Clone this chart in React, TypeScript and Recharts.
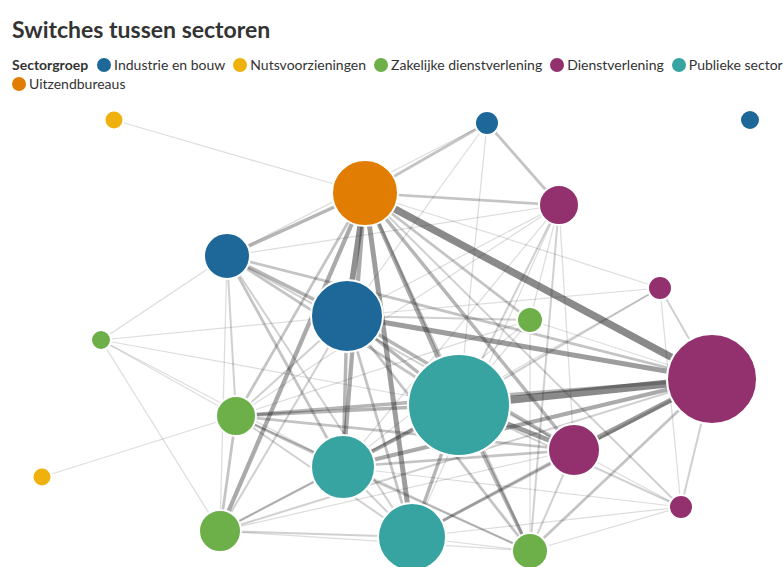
import React from "react";
import { Scatter, ScatterChart, XAxis, YAxis, ZAxis } from "recharts";

// sector groups, in legend order
const groups = [
  "Industrie en bouw",
  "Nutsvoorzieningen",
  "Zakelijke dienstverlening",
  "Dienstverlening",
  "Publieke sector",
  "Uitzendbureaus",
];

const GROUP_COLORS: Record<string, string> = {
  "Industrie en bouw": "#1d6899",
  Nutsvoorzieningen: "#eeb10d",
  "Zakelijke dienstverlening": "#6db04a",
  Dienstverlening: "#93316e",
  "Publieke sector": "#37a4a2",
  Uitzendbureaus: "#e27d04",
};

// nodes (layout position from the force layout, value = number of switches)
const nodeIds = ["A", "B", "C", "D", "E", "F", "G", "H", "I", "J", "K", "L", "M", "N", "O", "P", "Q", "R", "S", "T"];
const nodeGroups = [
  "Nutsvoorzieningen", "Industrie en bouw", "Industrie en bouw", "Uitzendbureaus", "Dienstverlening",
  "Industrie en bouw", "Dienstverlening", "Industrie en bouw", "Zakelijke dienstverlening", "Zakelijke dienstverlening",
  "Dienstverlening", "Publieke sector", "Zakelijke dienstverlening", "Dienstverlening", "Publieke sector",
  "Nutsvoorzieningen", "Dienstverlening", "Zakelijke dienstverlening", "Publieke sector", "Zakelijke dienstverlening",
];
const nodeX = [114, 487, 750, 365, 559, 227, 660, 347, 530, 101, 712, 459, 236, 574, 343, 42, 681, 220, 412, 530];
const nodeY = [447, 444, 447, 374, 362, 311, 279, 251, 247, 227, 188, 162, 151, 117, 100, 90, 60, 36, 30, 16];
const nodeValues = [90, 144, 100, 1089, 400, 529, 144, 1296, 169, 100, 2025, 2601, 400, 676, 1024, 90, 144, 441, 1156, 324];

// links: [source, target, weight]
const links: [string, string, number][] = [
  ["A", "D", 1], ["B", "D", 3], ["B", "E", 3], ["B", "L", 1], ["B", "H", 1], ["B", "F", 1],
  ["D", "E", 3], ["D", "K", 9], ["D", "G", 1], ["D", "F", 4], ["D", "H", 7], ["D", "L", 5],
  ["D", "O", 5], ["D", "S", 6], ["D", "R", 5], ["D", "M", 3], ["D", "N", 4], ["D", "I", 3],
  ["D", "T", 3], ["D", "Q", 2], ["E", "L", 2], ["E", "O", 1], ["E", "M", 1], ["E", "H", 1],
  ["E", "T", 2], ["E", "N", 1], ["E", "S", 1], ["E", "I", 1], ["E", "F", 1], ["F", "H", 4],
  ["F", "M", 2], ["F", "R", 1], ["F", "J", 1], ["F", "L", 3], ["F", "O", 3], ["F", "K", 3],
  ["F", "N", 2], ["F", "S", 2], ["G", "K", 2], ["G", "Q", 1], ["G", "L", 2], ["G", "O", 1],
  ["G", "H", 1], ["H", "K", 6], ["H", "L", 4], ["H", "O", 4], ["H", "N", 4], ["H", "M", 2],
  ["H", "R", 2], ["H", "S", 3], ["H", "T", 3], ["H", "I", 2], ["I", "L", 1], ["I", "O", 1],
  ["I", "M", 1], ["I", "T", 1], ["I", "K", 1], ["J", "M", 1], ["J", "R", 1], ["J", "L", 1],
  ["J", "O", 1], ["J", "H", 1], ["K", "L", 10], ["K", "N", 6], ["K", "O", 5], ["K", "M", 4],
  ["K", "Q", 2], ["K", "T", 3], ["K", "S", 3], ["K", "R", 2], ["L", "N", 6], ["L", "O", 5],
  ["L", "M", 4], ["L", "S", 4], ["L", "T", 4], ["L", "R", 2], ["L", "Q", 2], ["M", "O", 3],
  ["M", "R", 3], ["M", "S", 2], ["M", "N", 3], ["M", "T", 2], ["M", "P", 1], ["N", "O", 3],
  ["N", "S", 3], ["N", "T", 2], ["N", "Q", 1], ["N", "R", 1], ["O", "R", 2], ["O", "S", 2],
  ["O", "T", 2], ["O", "Q", 1], ["R", "S", 2], ["R", "T", 1], ["S", "T", 1], ["S", "Q", 1],
  ["T", "Q", 1],
];

const nodes = nodeIds.map((id, i) => ({
  id,
  group: nodeGroups[i],
  x: nodeX[i],
  y: nodeY[i],
  value: nodeValues[i],
}));
const nodeById: Record<string, (typeof nodes)[number]> = {};
nodes.forEach((n) => (nodeById[n.id] = n));

const MAX_VALUE = Math.max(...nodeValues);
const FONT = "Lato, 'Open Sans', sans-serif";

const NoDot = () => <g />;

const NodeShape = (props: any) => {
  const { cx, cy, width, payload } = props;
  return (
    <circle cx={cx} cy={cy} r={width / 2} fill={GROUP_COLORS[payload.group]} stroke="#fff" strokeWidth={2} />
  );
};

const App: React.FC = () => {
  return (
    <div
      style={{
        position: "absolute",
        left: 0,
        top: 0,
        width: 783,
        height: 567,
        overflow: "hidden",
        background: "#fff",
        fontFamily: FONT,
        color: "#333",
      }}
    >
      <div style={{ position: "absolute", left: 12, top: 15, fontSize: 23, fontWeight: 700, color: "#333" }}>
        Switches tussen sectoren
      </div>
      <div
        style={{
          position: "absolute",
          left: 12,
          top: 55,
          width: 800,
          fontSize: 14,
          lineHeight: "19px",
          display: "flex",
          flexWrap: "wrap",
          alignItems: "center",
        }}
      >
        <span style={{ fontWeight: 700, marginRight: 9 }}>Sectorgroep</span>
        {groups.map((g) => (
          <span key={g} style={{ display: "inline-flex", alignItems: "center", marginRight: 8 }}>
            <span
              style={{
                display: "inline-block",
                width: 14,
                height: 14,
                borderRadius: "50%",
                background: GROUP_COLORS[g],
                marginRight: 3,
              }}
            />
            {g}
          </span>
        ))}
      </div>
      <div style={{ position: "absolute", left: 0, top: 100 }}>
        <ScatterChart width={783} height={467} margin={{ top: 0, right: 0, bottom: 0, left: 0 }}>
          <XAxis type="number" dataKey="x" domain={[0, 783]} hide />
          <YAxis type="number" dataKey="y" domain={[0, 467]} hide />
          <ZAxis type="number" dataKey="value" domain={[0, MAX_VALUE]} range={[0, Math.PI * MAX_VALUE]} />
          {links.map(([s, t, w], i) => (
            <Scatter
              key={`link-${i}`}
              data={[nodeById[s], nodeById[t]]}
              shape={NoDot}
              line={{
                stroke: "#2a2a2a",
                strokeWidth: 0.5 + w * 0.75,
                strokeOpacity: Math.min(0.1 + w * 0.06, 0.55),
              }}
              legendType="none"
              isAnimationActive={false}
            />
          ))}
          <Scatter data={nodes} shape={NodeShape} isAnimationActive={false} />
        </ScatterChart>
      </div>
    </div>
  );
};

export default App;
